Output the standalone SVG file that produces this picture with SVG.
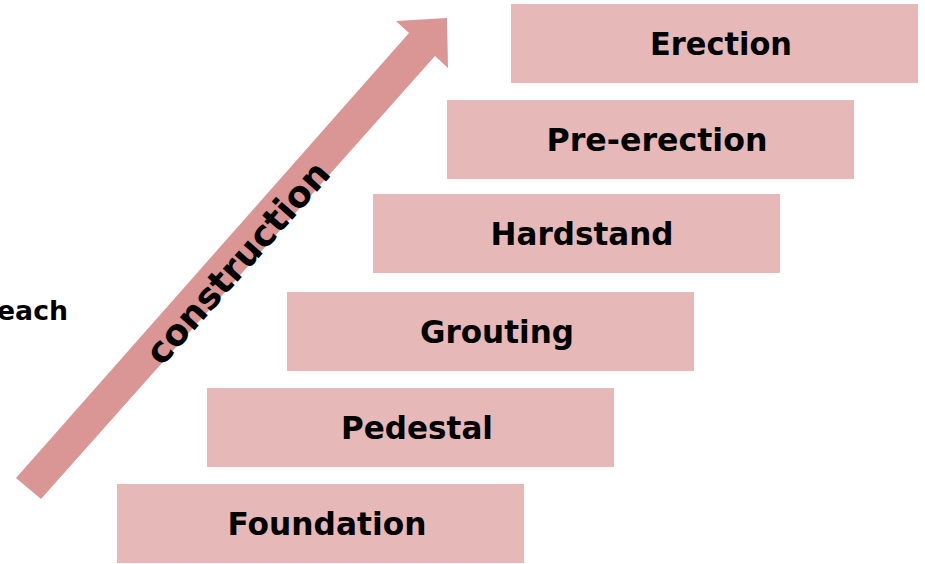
<svg xmlns="http://www.w3.org/2000/svg" width="925" height="564" viewBox="0 0 925 564">
<style>
.box{fill:#E6B8B7;}
.lbl{font-family:"DejaVu Sans","Liberation Sans",sans-serif;font-weight:bold;font-size:32px;fill:#000;text-anchor:middle;}
.arrow{fill:#D99694;}
</style>
<rect width="925" height="564" fill="#fff"/>
<text x="-3" y="320" font-family="DejaVu Sans, sans-serif" font-weight="bold" font-size="26" textLength="71" lengthAdjust="spacingAndGlyphs">each</text>
<g id="connectors">
<polygon class="arrow" points="16,478 409,33 396,21 447,18 448,68 435,56 41,499"/>
<text transform="translate(238,263) rotate(-48.5)" x="0" y="12" font-family="DejaVu Sans, sans-serif" font-weight="bold" font-size="36" text-anchor="middle" textLength="257" lengthAdjust="spacingAndGlyphs">construction</text>
</g>
<g id="erection"><rect class="box" x="511" y="4" width="407" height="79"/><text class="lbl" x="721" y="55" textLength="142" lengthAdjust="spacingAndGlyphs">Erection</text></g>
<g id="pre-erection"><rect class="box" x="447" y="100" width="407" height="79"/><text class="lbl" x="657" y="151" textLength="221" lengthAdjust="spacingAndGlyphs">Pre-erection</text></g>
<g id="hardstand"><rect class="box" x="373" y="194" width="407" height="79"/><text class="lbl" x="582" y="245" textLength="183" lengthAdjust="spacingAndGlyphs">Hardstand</text></g>
<g id="grouting"><rect class="box" x="287" y="292" width="407" height="79"/><text class="lbl" x="497" y="343" textLength="154" lengthAdjust="spacingAndGlyphs">Grouting</text></g>
<g id="pedestal"><rect class="box" x="207" y="388" width="407" height="79"/><text class="lbl" x="417" y="439" textLength="152" lengthAdjust="spacingAndGlyphs">Pedestal</text></g>
<g id="foundation"><rect class="box" x="117" y="484" width="407" height="79"/><text class="lbl" x="327" y="535" textLength="199" lengthAdjust="spacingAndGlyphs">Foundation</text></g>
</svg>
